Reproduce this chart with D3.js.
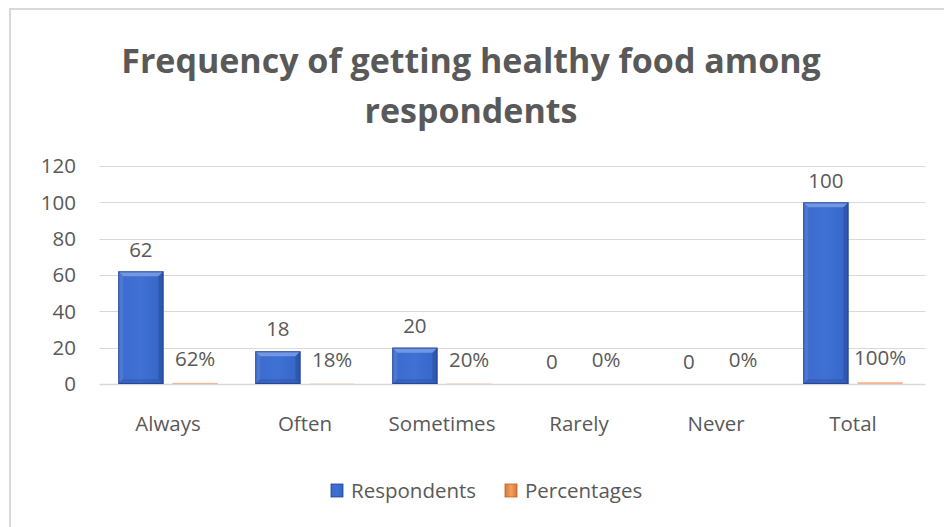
<!DOCTYPE html>
<html>
<head>
<meta charset="utf-8">
<script src="https://cdn.jsdelivr.net/npm/d3@7"></script>
<style>
  html, body { margin: 0; padding: 0; background: #fff; }
  svg { display: block; }
  text { font-family: "Open Sans", sans-serif; fill: #595959; }
</style>
</head>
<body>
<svg id="chart" width="944" height="527"></svg>
<script>
const categories = ["Always", "Often", "Sometimes", "Rarely", "Never", "Total"];
const respondents = [62, 18, 20, 0, 0, 100];
const percentages = [0.62, 0.18, 0.20, 0, 0, 1.00];
const percentLabels = ["62%", "18%", "20%", "0%", "0%", "100%"];
const yTicks = [0, 20, 40, 60, 80, 100, 120];
const titleLines = ["Frequency of getting healthy food among", "respondents"];
const seriesNames = ["Respondents", "Percentages"];

const svg = d3.select("#chart");
const W = 944, H = 527;
const margin = { left: 101.5, right: 20.5, top: 166, bottom: 143 };

// chart area border
svg.append("rect").attr("x", 10).attr("y", 9).attr("width", W + 20).attr("height", H + 20)
  .attr("fill", "#fff").attr("stroke", "#d9d9d9").attr("stroke-width", 2);

const defs = svg.append("defs");
function gradient(id, c1, c2, c3) {
  const g = defs.append("linearGradient").attr("id", id).attr("x1", 0).attr("x2", 1).attr("y1", 0).attr("y2", 0);
  g.append("stop").attr("offset", "0%").attr("stop-color", c1);
  g.append("stop").attr("offset", "50%").attr("stop-color", c2);
  g.append("stop").attr("offset", "100%").attr("stop-color", c3);
}
gradient("gBlue", "#3d6bcc", "#3f70d4", "#3565c6");
gradient("gOrange", "#e0782f", "#f0a060", "#e0782f");

const x = d3.scaleBand().domain(categories).range([margin.left, W - margin.right]);
const y = d3.scaleLinear().domain([0, 120]).range([H - margin.bottom, margin.top]);

// gridlines
svg.append("g").selectAll("line").data(yTicks).join("line")
  .attr("x1", margin.left - 2).attr("x2", W - margin.right + 2)
  .attr("y1", d => Math.round(y(d)) + 0.5).attr("y2", d => Math.round(y(d)) + 0.5)
  .attr("stroke", "#d9d9d9").attr("stroke-width", d => d === 0 ? 1.5 : 1);

const fs = 20.5;
// y axis labels
svg.append("g").selectAll("text").data(yTicks).join("text")
  .attr("x", 76).attr("y", d => y(d)).attr("dy", "0.35em")
  .attr("text-anchor", "end").attr("font-size", fs).text(d => d);

// category labels
svg.append("g").selectAll("text").data(categories).join("text")
  .attr("x", d => x(d) + x.bandwidth() / 2 - 2).attr("y", 424).attr("dy", "0.35em")
  .attr("text-anchor", "middle").attr("font-size", fs).text(d => d);

const barW = x.bandwidth() * 0.33;
const gap = barW * 0.2;
const groupW = barW * 2 + gap;

function bevelBars(data, xoff, fill, edgeDark, edgeLight, topLight) {
  const g = svg.append("g");
  data.forEach((v, i) => {
    const c = categories[i];
    const x0 = x(c) + (x.bandwidth() - groupW) / 2 - 2 + xoff;
    const y0 = y(v), y1 = y(0);
    const h = y1 - y0;
    if (h <= 0) return;
    g.append("rect").attr("x", x0).attr("y", y0).attr("width", barW).attr("height", h)
      .attr("fill", fill);
    const b = Math.min(5, h / 2, barW / 2);
    if (b >= 2) {
      g.append("polygon").attr("points", [[x0, y0], [x0 + barW, y0], [x0 + barW - b, y0 + b], [x0 + b, y0 + b]].join(" "))
        .attr("fill", topLight).attr("opacity", 0.85);
      g.append("polygon").attr("points", [[x0, y0], [x0 + b, y0 + b], [x0 + b, y1 - b], [x0, y1]].join(" "))
        .attr("fill", edgeLight).attr("opacity", 0.35);
      g.append("polygon").attr("points", [[x0 + barW, y0], [x0 + barW - b, y0 + b], [x0 + barW - b, y1 - b], [x0 + barW, y1]].join(" "))
        .attr("fill", edgeDark).attr("opacity", 0.4);
      g.append("polygon").attr("points", [[x0, y1], [x0 + b, y1 - b], [x0 + barW - b, y1 - b], [x0 + barW, y1]].join(" "))
        .attr("fill", edgeDark).attr("opacity", 0.25);
      g.append("rect").attr("x", x0 + 0.5).attr("y", y0 + 0.5).attr("width", barW - 1).attr("height", h - 1)
        .attr("fill", "none").attr("stroke", edgeDark).attr("stroke-width", 1).attr("opacity", 0.8);
    }
  });
}
bevelBars(respondents, 0, "url(#gBlue)", "#23418a", "#6a90e0", "#7b9fe6");
bevelBars(percentages, barW + gap, "#f4b692", "#f0a882", "#f8c9a8", "#f8c9a8");

// data labels
svg.append("g").selectAll("text").data(respondents).join("text")
  .attr("x", (d, i) => x(categories[i]) + (x.bandwidth() - groupW) / 2 - 2 + barW / 2)
  .attr("y", d => y(d) - 22).attr("dy", "0.35em")
  .attr("text-anchor", "middle").attr("font-size", fs).text(d => d);
svg.append("g").selectAll("text").data(percentages).join("text")
  .attr("x", (d, i) => x(categories[i]) + (x.bandwidth() - groupW) / 2 - 2 + barW + gap + barW / 2)
  .attr("y", d => y(d) - 24).attr("dy", "0.35em")
  .attr("text-anchor", "middle").attr("font-size", fs).text((d, i) => percentLabels[i]);

// title
svg.append("g").selectAll("text").data(titleLines).join("text")
  .attr("x", 471).attr("y", (d, i) => 61 + i * 50).attr("dy", "0.35em")
  .attr("text-anchor", "middle").attr("font-size", 34).attr("font-weight", "bold").text(d => d);

// legend
const legend = svg.append("g");
const legendItems = [
  { name: seriesNames[0], fill: "url(#gBlue)", stroke: "#23418a", x: 331 },
  { name: seriesNames[1], fill: "url(#gOrange)", stroke: "#b8612a", x: 505 }
];
legendItems.forEach(it => {
  legend.append("rect").attr("x", it.x).attr("y", 484).attr("width", 12).attr("height", 13)
    .attr("fill", it.fill).attr("stroke", it.stroke).attr("stroke-width", 0.8);
  legend.append("text").attr("x", it.x + 20).attr("y", 491).attr("dy", "0.35em")
    .attr("font-size", fs).text(it.name);
});
</script>
</body>
</html>
